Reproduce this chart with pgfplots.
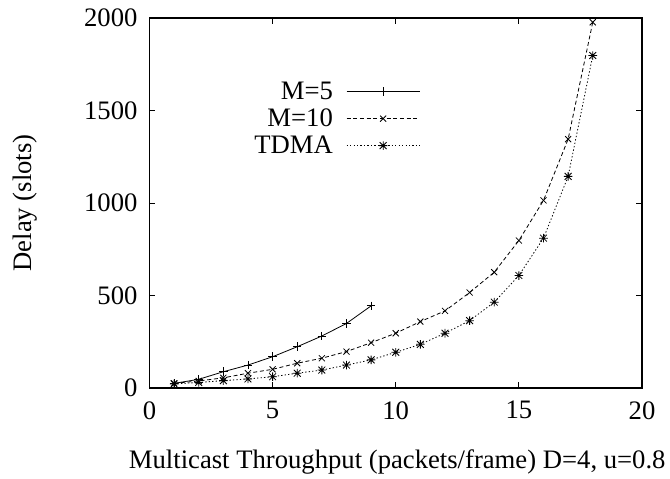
\documentclass[border=0pt]{standalone}
\usepackage{fontspec}
\setmainfont{Liberation Serif}
\usepackage{pgfplots}
\pgfplotsset{compat=1.18}
\pgfdeclareplotmark{gpstar}{%
 \pgfpathmoveto{\pgfqpoint{-\pgfplotmarksize}{0pt}}\pgfpathlineto{\pgfqpoint{\pgfplotmarksize}{0pt}}%
 \pgfpathmoveto{\pgfqpoint{0pt}{-\pgfplotmarksize}}\pgfpathlineto{\pgfqpoint{0pt}{\pgfplotmarksize}}%
 \pgfpathmoveto{\pgfqpoint{-0.8\pgfplotmarksize}{-0.8\pgfplotmarksize}}\pgfpathlineto{\pgfqpoint{0.8\pgfplotmarksize}{0.8\pgfplotmarksize}}%
 \pgfpathmoveto{\pgfqpoint{-0.8\pgfplotmarksize}{0.8\pgfplotmarksize}}\pgfpathlineto{\pgfqpoint{0.8\pgfplotmarksize}{-0.8\pgfplotmarksize}}%
 \pgfusepathqstroke}
\begin{document}
\begin{tikzpicture}
\begin{axis}[
  scale only axis,
  width=369.4pt, height=277.5pt,
  xmin=0, xmax=20, ymin=0, ymax=2000,
  xtick={0,5,10,15,20}, ytick={0,500,1000,1500,2000},
  tick align=inside, major tick length=4.5pt,
  axis line style={line width=0.9pt},
  every tick/.style={black, line width=0.6pt},
  font=\fontsize{20}{24}\selectfont,
  /pgf/number format/assume math mode=true,
  /pgf/number format/1000 sep={},
  xticklabel style={yshift=-6.5pt},
  yticklabel style={xshift=-5.5pt},
  xlabel={Multicast Throughput (packets/frame) D=4, u=0.8},
  ylabel={Delay (slots)},
  xlabel style={at={(axis description cs:0.503,-0.2)}, anchor=center},
  ylabel style={at={(axis description cs:-0.253,0.5)}, anchor=center, rotate=0},
  legend plot pos=right,
  legend cell align=right,
  legend style={at={(axis description cs:0.55,0.835)}, anchor=north east, draw=none, fill=none, inner sep=0pt, row sep=1.5pt, font=\fontsize{20}{24}\selectfont},
  legend image code/.code={\path (0pt,0pt); \draw[mark repeat=2,mark phase=2,#1] plot coordinates {(8pt,0pt) (35.4pt,0pt) (62.8pt,0pt)};},
  mark size=3.2pt,
]
\addplot[black, line width=0.6pt, mark=+, mark options={solid}] coordinates {
(1,25)(2,47)(3,88)(4,124)(5,169)(6,223)(7,281)(8,349)(9,444)};
\addlegendentry{M=5}
\addplot[black, line width=0.6pt, dash pattern=on 3pt off 2pt, mark=x, mark options={solid}] coordinates {
(1,25)(2,38)(3,55)(4,80)(5,101)(6,134)(7,161)(8,197)(9,245)(10,296)(11,359)(12,417)(13,516)(14,626)(15,797)(16,1014)(17,1345)(18,1977)};
\addlegendentry{M=10}
\addplot[black, line width=0.6pt, dash pattern=on 1pt off 1.6pt, mark=gpstar, mark options={solid}] coordinates {
(1,22)(2,30)(3,40)(4,49)(5,61)(6,80)(7,97)(8,124)(9,152)(10,193)(11,236)(12,296)(13,364)(14,464)(15,608)(16,810)(17,1144)(18,1797)};
\addlegendentry{TDMA}
\end{axis}
\path ([xshift=-112.1pt,yshift=-64.5pt]current axis.south west) rectangle ([xshift=21pt,yshift=13.5pt]current axis.north east);
\end{tikzpicture}
\end{document}
